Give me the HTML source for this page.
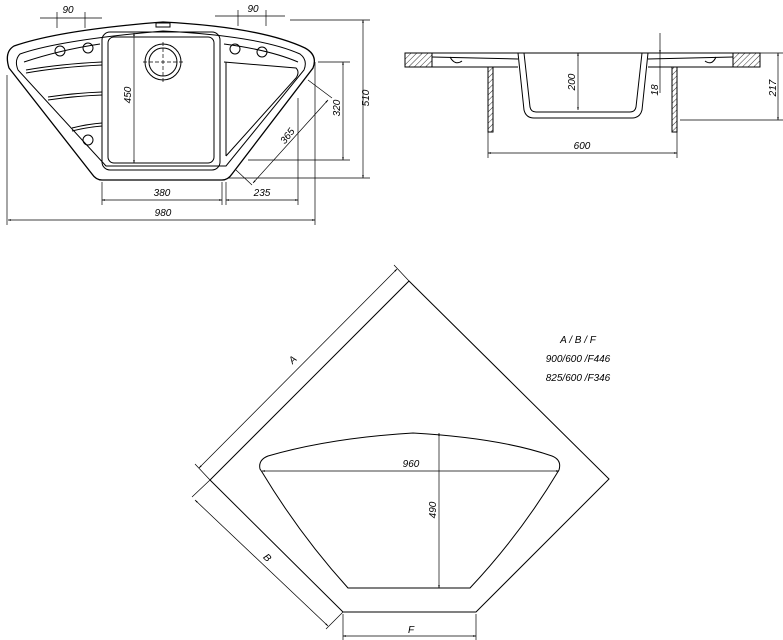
<!DOCTYPE html>
<html><head><meta charset="utf-8"><style>
html,body{margin:0;padding:0;background:#fff;width:783px;height:640px;overflow:hidden}
svg text{font-family:"Liberation Sans",sans-serif;font-style:italic;font-size:10px;fill:#000}
</style></head><body>
<svg width="783" height="640" viewBox="0 0 783 640" xmlns="http://www.w3.org/2000/svg">
<defs>
<marker id="a" viewBox="0 0 10 10" refX="10" refY="5" markerWidth="6" markerHeight="4" orient="auto-start-reverse"><path d="M0,2 L10,5 L0,8z" fill="#000"/></marker>
<pattern id="h" patternUnits="userSpaceOnUse" width="4" height="4" patternTransform="rotate(45)"><line x1="0" y1="0" x2="0" y2="4" stroke="#000" stroke-width="0.8"/></pattern>
</defs>
<g fill="none" stroke="#000" stroke-width="1">
<!-- TOP LEFT PLAN -->
<path d="M14,46 Q60,30 163,22 Q260,27 305,48 Q318,55 313,68 L232,174 Q228,180 222,180 L102,180 Q96,180 92,174 L9,68 Q4,52 14,46Z" stroke-width="1.3"/>
<path d="M20,54 Q60,40 163,31 Q260,36 300,54 Q308,60 304,70 L226,166 L106,166 L18,70 Q14,60 20,54Z"/>
<path d="M24,62 Q60,50 100,44 M224,44 Q270,50 298,62"/>
<rect x="102" y="32" width="118" height="138" rx="8"/>
<rect x="108" y="37" width="106" height="126" rx="6"/>
<path d="M224,62 L296,68 Q300,72 296,78 L226,156 M226,62 L226,156"/>
<circle cx="163" cy="62" r="18"/><circle cx="163" cy="62" r="14"/>
<path d="M143,62 H183 M163,42 V82" stroke-dasharray="4,2" stroke-width="0.7"/>
<rect x="156" y="23" width="14" height="4"/>
<circle cx="60" cy="51" r="5"/><circle cx="88" cy="48" r="5"/><circle cx="235" cy="49" r="5"/><circle cx="262" cy="52" r="5"/><circle cx="88" cy="140" r="5"/>
<path d="M26,70 Q60,64 102,62 M26,73 Q60,67 102,65"/>
<path d="M48,97 Q75,93 102,92 M48,100 Q75,96 102,95"/>
<path d="M72,128 Q88,124 102,123 M72,131 Q88,127 102,126"/>
<g stroke-width="0.7">
<path d="M40,18 H102 M57,12 V28 M85,12 V28"/>
<path d="M215,16 H285 M238,10 V26 M266,10 V26"/>
<path d="M290,20 H370 M228,178 H370"/><path d="M363,20 V178" marker-start="url(#a)" marker-end="url(#a)"/>
<path d="M318,62 H350 M248,160 H350"/><path d="M343,62 V160" marker-start="url(#a)" marker-end="url(#a)"/>
<path d="M308,80 L332,98 M236,170 L252,185"/><path d="M328,100 L253,183" marker-start="url(#a)" marker-end="url(#a)"/>
<path d="M134,33 V163" marker-start="url(#a)" marker-end="url(#a)"/>
<path d="M102,182 V205 M222,182 V205 M226,182 V205 M298,98 V205 M7,75 V225 M315,62 V225"/>
<path d="M102,200 H222" marker-start="url(#a)" marker-end="url(#a)"/>
<path d="M226,200 H298" marker-start="url(#a)" marker-end="url(#a)"/>
<path d="M8,220 H315" marker-start="url(#a)" marker-end="url(#a)"/>
</g>
</g>
<text x="68" y="13" text-anchor="middle">90</text>
<text x="253" y="12" text-anchor="middle">90</text>
<text x="162" y="196" text-anchor="middle">380</text>
<text x="262" y="196" text-anchor="middle">235</text>
<text x="163" y="216" text-anchor="middle">980</text>
<text transform="translate(131,95) rotate(-90)" text-anchor="middle">450</text>
<text transform="translate(340,108) rotate(-90)" text-anchor="middle">320</text>
<text transform="translate(369,98) rotate(-90)" text-anchor="middle">510</text>
<text transform="translate(290,138) rotate(-52)" text-anchor="middle">365</text>
<!-- SECTION -->
<g fill="none" stroke="#000" stroke-width="1">
<rect x="405" y="53" width="27" height="14" fill="url(#h)"/>
<rect x="733" y="53" width="27" height="14" fill="url(#h)"/>
<path d="M405,53 H760 M432,67 H518 M648,67 H733"/>
<rect x="488" y="67" width="5" height="65" fill="url(#h)"/>
<rect x="672" y="67" width="5" height="65" fill="url(#h)"/>
<path d="M518,53 L524,110 Q526,118 534,118 L632,118 Q640,118 642,110 L648,53"/>
<path d="M524,53 L530,107 Q531,112 536,112 L630,112 Q635,112 636,107 L642,53"/>
<path d="M432,57 L518,59 M648,59 L733,57"/>
<path d="M450,57 Q455,66 462,61 M705,61 Q712,66 716,57"/>
<g stroke-width="0.7">
<path d="M578,53 V110" marker-start="url(#a)" marker-end="url(#a)"/>
<path d="M660,33 V53" marker-end="url(#a)"/><path d="M660,53 V93"/>
<path d="M760,53 H783 M680,120 H783"/><path d="M778,53 V120" marker-start="url(#a)" marker-end="url(#a)"/>
<path d="M488,132 V158 M677,132 V158"/>
<path d="M488,153 H677" marker-start="url(#a)" marker-end="url(#a)"/>
</g>
</g>
<text transform="translate(575,82) rotate(-90)" text-anchor="middle">200</text>
<text transform="translate(658,90) rotate(-90)" text-anchor="middle">18</text>
<text transform="translate(776,88) rotate(-90)" text-anchor="middle">217</text>
<text x="582" y="149" text-anchor="middle">600</text>
<!-- BOTTOM -->
<g fill="none" stroke="#000" stroke-width="1">
<path d="M409,281 L609,479 L476,612 L343,612 L210,480 Z"/>
<path d="M260,469 Q258,460 268,456 Q330,438 413,433 Q500,438 552,456 Q562,460 559,470 Q520,535 470,588 L348,588 Q300,535 262,472Z"/>
<g stroke-width="0.7">
<path d="M210,480 L195,464 M409,281 L394,265"/>
<path d="M199,468 L397,269" marker-start="url(#a)" marker-end="url(#a)"/>
<path d="M210,480 L192,497 M343,612 L326,629"/>
<path d="M195,500 L328,626" marker-start="url(#a)" marker-end="url(#a)"/>
<path d="M343,614 V640 M476,614 V640"/>
<path d="M343,636 H476" marker-start="url(#a)" marker-end="url(#a)"/>
<path d="M262,471 H559" marker-start="url(#a)" marker-end="url(#a)"/>
<path d="M439,433 V588" marker-start="url(#a)" marker-end="url(#a)"/>
</g>
</g>
<text transform="translate(295,362) rotate(-45)" text-anchor="middle">A</text>
<text transform="translate(265,560) rotate(45)" text-anchor="middle">B</text>
<text x="411" y="633" text-anchor="middle">F</text>
<text x="411" y="467" text-anchor="middle">960</text>
<text transform="translate(436,510) rotate(-90)" text-anchor="middle">490</text>
<text x="578" y="343" text-anchor="middle">A  /  B  /  F</text>
<text x="578" y="362" text-anchor="middle">900/600 /F446</text>
<text x="578" y="381" text-anchor="middle">825/600 /F346</text>
</svg>
</body></html>
